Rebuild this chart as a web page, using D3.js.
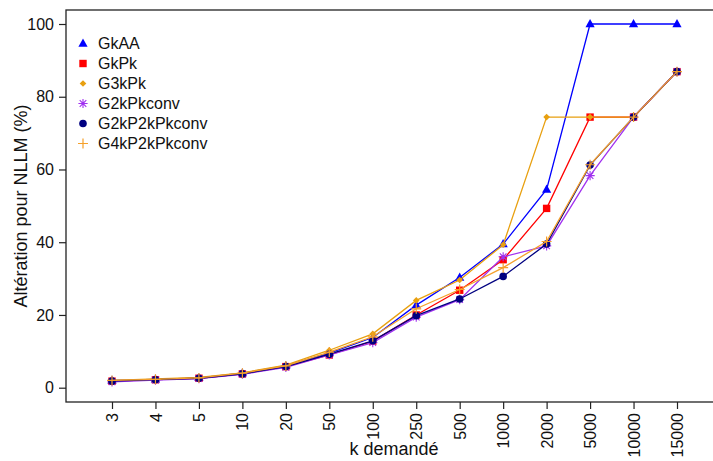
<!DOCTYPE html>
<html><head><meta charset="utf-8">
<script src="https://cdn.jsdelivr.net/npm/d3@7"></script>
<style>
body{margin:0;background:#fff;}
svg{display:block;font-family:"Liberation Sans",Arial,Helvetica,sans-serif;}
</style></head>
<body><svg id="c" width="713" height="461"></svg>
<script>
const categories = ["3","4","5","10","20","50","100","250","500","1000","2000","5000","10000","15000"];
const seriesNames = ["GkAA","GkPk","G3kPk","G2kPkconv","G2kP2kPkconv","G4kP2kPkconv"];
const GkAA         = [2.0,2.3,2.7,4.0,6.0,9.5,13.8,22.7,30.3,39.5,54.5,100,100,100];
const GkPk         = [1.8,2.2,2.6,3.8,5.8,9.0,12.8,20.0,26.8,35.2,49.3,74.4,74.4,86.9];
const G3kPk        = [2.0,2.4,2.8,4.1,6.2,10.3,14.8,24.0,29.6,39.3,74.4,74.4,74.4,86.9];
const G2kPkconv    = [1.6,2.1,2.5,3.7,5.6,9.0,12.4,19.4,24.2,36.0,39.0,58.3,74.4,86.9];
const G2kP2kPkconv = [1.8,2.2,2.6,3.8,5.8,9.2,12.9,19.8,24.4,30.6,39.5,61.2,74.4,86.9];
const G4kP2kPkconv = [2.0,2.3,2.7,4.0,6.0,9.8,14.0,21.7,27.0,33.0,40.2,61.3,74.4,86.9];
const yTicks = [0,20,40,60,80,100];
const xTitle = "k demandé";
const yTitle = "Altération pour NLLM (%)";

const seriesValues = [GkAA,GkPk,G3kPk,G2kPkconv,G2kP2kPkconv,G4kP2kPkconv];
const colors = ["#0000ff","#ff0000","#e8a010","#a030f0","#000080","#f5a02a"];
const symbols = ["triangle","square","diamond","asterisk","circle","plus"];

const svg = d3.select("#c");
const box = {l:66, t:10, r:722, b:402};
const x = d3.scalePoint().domain(categories).range([112, 677]);
const y = d3.scaleLinear().domain([0,100]).range([387.7, 24]);

// box
svg.append("rect").attr("x",box.l).attr("y",box.t).attr("width",box.r-box.l).attr("height",box.b-box.t)
  .attr("fill","none").attr("stroke","#222").attr("stroke-width",1.3);

// y axis
const ya = svg.append("g").attr("transform",`translate(${box.l},0)`)
  .call(d3.axisLeft(y).tickValues(yTicks).tickSize(7).tickPadding(5).tickFormat(d3.format("d")));
ya.select(".domain").remove();
ya.selectAll("line").attr("stroke","#222").attr("stroke-width",1.2);
ya.selectAll("text").attr("font-size",16).attr("fill","#111").attr("font-family","Liberation Sans, Arial, sans-serif");

// x axis
const xa = svg.append("g").attr("transform",`translate(0,${box.b})`)
  .call(d3.axisBottom(x).tickSize(7).tickPadding(5));
xa.select(".domain").remove();
xa.selectAll("line").attr("stroke","#222").attr("stroke-width",1.2);
xa.selectAll("text").attr("font-size",16).attr("fill","#111").attr("font-family","Liberation Sans, Arial, sans-serif")
  .attr("transform","rotate(-90)").attr("text-anchor","end").attr("dy","0.35em").attr("x",-11).attr("y",0);

// titles
svg.append("text").attr("x",(box.l+box.r)/2).attr("y",455).attr("text-anchor","middle")
  .attr("font-size",18).attr("fill","#111").text(xTitle);
svg.append("text").attr("transform",`translate(27,${(box.t+box.b)/2}) rotate(-90)`).attr("text-anchor","middle")
  .attr("font-size",18).attr("fill","#111").text(yTitle);

function drawSymbol(g, type, cx, cy, color){
  if(type==="triangle"){
    g.append("path").attr("d",`M${cx},${cy-5}L${cx+4.6},${cy+3.2}L${cx-4.6},${cy+3.2}Z`).attr("fill",color);
  } else if(type==="square"){
    g.append("rect").attr("x",cx-3.7).attr("y",cy-3.7).attr("width",7.4).attr("height",7.4).attr("fill",color);
  } else if(type==="diamond"){
    g.append("path").attr("d",`M${cx},${cy-3.3}L${cx+3.3},${cy}L${cx},${cy+3.3}L${cx-3.3},${cy}Z`).attr("fill",color);
  } else if(type==="circle"){
    g.append("circle").attr("cx",cx).attr("cy",cy).attr("r",3.8).attr("fill",color);
  } else if(type==="plus"){
    g.append("path").attr("d",`M${cx-5},${cy}H${cx+5}M${cx},${cy-5}V${cy+5}`).attr("stroke",color).attr("stroke-width",1.2);
  } else if(type==="asterisk"){
    const r=4.6, r2=3.3;
    g.append("path").attr("d",`M${cx-r},${cy}H${cx+r}M${cx},${cy-r}V${cy+r}M${cx-r2},${cy-r2}L${cx+r2},${cy+r2}M${cx-r2},${cy+r2}L${cx+r2},${cy-r2}`)
      .attr("stroke",color).attr("stroke-width",1.1);
  }
}

const line = d3.line().x((d,i)=>x(categories[i])).y(d=>y(d));
seriesValues.forEach((vals,si)=>{
  const g = svg.append("g");
  g.append("path").datum(vals).attr("d",line).attr("fill","none").attr("stroke",colors[si]).attr("stroke-width",1.3);
  vals.forEach((v,i)=>drawSymbol(g, symbols[si], x(categories[i]), y(v), colors[si]));
});

// legend
const leg = svg.append("g");
seriesNames.forEach((n,i)=>{
  const ly = 43.5 + i*20;
  drawSymbol(leg, symbols[i], 83, ly, colors[i]);
  leg.append("text").attr("x",98).attr("y",ly).attr("dy","0.35em").attr("font-size",16).attr("fill","#111").text(n);
});
</script></body></html>
